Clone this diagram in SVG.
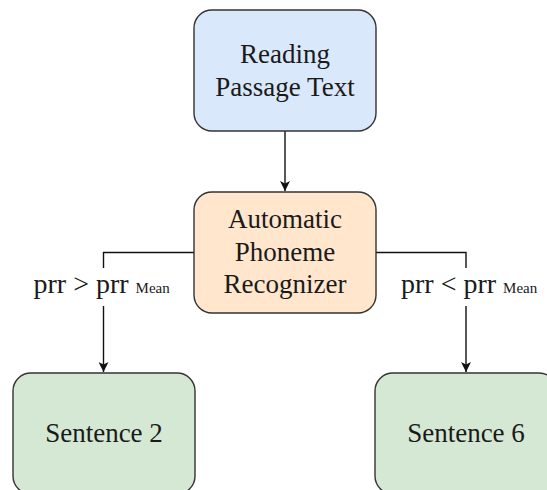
<svg xmlns="http://www.w3.org/2000/svg" width="547" height="490" viewBox="0 0 547 490">
  <defs>
    <style>
      .node rect { stroke: #333333; stroke-width: 1.4; }
      .edge { fill: none; stroke: #111111; stroke-width: 1.4; }
      .blue { fill: #dae8fc; }
      .orange { fill: #ffe6cc; }
      .green { fill: #d5e8d4; }
    </style>
    <marker id="arrow" viewBox="0 0 10 10" refX="10" refY="5" markerWidth="10" markerHeight="10" markerUnits="userSpaceOnUse" orient="auto">
      <path d="M0,0 L10,5 L0,10 L2.5,5 Z" fill="#111111"/>
    </marker>
  </defs>
  <rect x="0" y="0" width="547" height="490" fill="#ffffff"/>

  <g id="connectors">
    <path class="edge" d="M285,131 L285,191" marker-end="url(#arrow)"/>
    <path class="edge" d="M194,252.5 L103.5,252.5 L103.5,372" marker-end="url(#arrow)"/>
    <path class="edge" d="M376,252.5 L466,252.5 L466,372" marker-end="url(#arrow)"/>
  </g>

  <g id="label-left">
    <rect x="32" y="268" width="138" height="38" fill="#ffffff"/>
    <text x="33.5" y="293" font-family="Liberation Serif, Times New Roman, serif" font-size="28" fill="#1a1a1a">prr &gt; prr <tspan font-size="15">Mean</tspan></text>
  </g>
  <g id="label-right">
    <rect x="399" y="268" width="138" height="38" fill="#ffffff"/>
    <text x="401" y="293" font-family="Liberation Serif, Times New Roman, serif" font-size="28" fill="#1a1a1a">prr &lt; prr <tspan font-size="15">Mean</tspan></text>
  </g>

  <g id="node-reading" class="node">
    <rect class="blue" x="194" y="10" width="182" height="121" rx="18" ry="18"/>
    <text x="285" y="63" font-family="Liberation Serif, Times New Roman, serif" font-size="27" fill="#1a1a1a" text-anchor="middle">Reading</text>
    <text x="285" y="96" font-family="Liberation Serif, Times New Roman, serif" font-size="27" fill="#1a1a1a" text-anchor="middle">Passage Text</text>
  </g>

  <g id="node-recognizer" class="node">
    <rect class="orange" x="194" y="192" width="182" height="121" rx="18" ry="18"/>
    <text x="285" y="228" font-family="Liberation Serif, Times New Roman, serif" font-size="27" fill="#1a1a1a" text-anchor="middle">Automatic</text>
    <text x="285" y="260.5" font-family="Liberation Serif, Times New Roman, serif" font-size="27" fill="#1a1a1a" text-anchor="middle">Phoneme</text>
    <text x="285" y="293" font-family="Liberation Serif, Times New Roman, serif" font-size="27" fill="#1a1a1a" text-anchor="middle">Recognizer</text>
  </g>

  <g id="node-sentence2" class="node">
    <rect class="green" x="13" y="373" width="182" height="121" rx="18" ry="18"/>
    <text x="104" y="442" font-family="Liberation Serif, Times New Roman, serif" font-size="27" fill="#1a1a1a" text-anchor="middle">Sentence 2</text>
  </g>

  <g id="node-sentence6" class="node">
    <rect class="green" x="375" y="373" width="182" height="121" rx="18" ry="18"/>
    <text x="466" y="442" font-family="Liberation Serif, Times New Roman, serif" font-size="27" fill="#1a1a1a" text-anchor="middle">Sentence 6</text>
  </g>
</svg>
